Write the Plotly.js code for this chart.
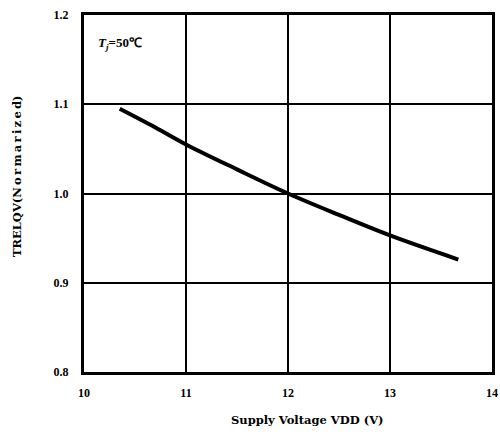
<!DOCTYPE html>
<html><head><meta charset="utf-8">
<script src="https://cdn.plot.ly/plotly-3.0.1.min.js"></script>
<style>body{margin:0;background:#fff}#g{width:500px;height:434px}</style>
</head><body><div id="g"></div>
<script>
const vdd = [10.35, 10.7, 11.0, 11.5, 12.0, 12.5, 13.0, 13.67];
const trelqv = [1.095, 1.074, 1.055, 1.027, 1.0, 0.976, 0.953, 0.926];
const xTicks = [10, 11, 12, 13, 14];
const yTicks = [0.8, 0.9, 1.0, 1.1, 1.2];
const yTickText = ["0.8", "0.9", "1.0", "1.1", "1.2"];
const xTitle = "Supply Voltage VDD (V)";
const yTitle = "TRELQV(N\u2009o\u2009r\u2009m\u2009a\u2009r\u2009i\u2009z\u2009e\u2009d)";
const tickFont = {family: "Liberation Serif, Times New Roman, serif", size: 12, color: "#000", weight: "bold"};
const titleFont = {family: "DejaVu Serif, serif", size: 11.5, color: "#000", weight: "bold"};
Plotly.newPlot("g", [{
  x: vdd, y: trelqv, mode: "lines", type: "scatter",
  line: {color: "#000", width: 4, shape: "spline"}, hoverinfo: "skip"
}], {
  width: 500, height: 434,
  margin: {l: 84, r: 8, t: 15, b: 62},
  paper_bgcolor: "#fff", plot_bgcolor: "#fff",
  showlegend: false,
  xaxis: {range: [10, 14], tickvals: xTicks, showgrid: true, gridcolor: "#000", gridwidth: 2,
    showline: true, linecolor: "#000", linewidth: 3, mirror: true, zeroline: false,
    ticks: "", ticklabelstandoff: 8, tickfont: tickFont},
  yaxis: {range: [0.8, 1.2], tickvals: yTicks, ticktext: yTickText, showgrid: true, gridcolor: "#000", gridwidth: 2,
    showline: true, linecolor: "#000", linewidth: 3, mirror: true, zeroline: false,
    ticks: "", ticklabelstandoff: 10, tickfont: tickFont},
  annotations: [{
    xref: "paper", yref: "paper", x: 0.03, y: 0.92, xanchor: "left", yanchor: "middle", showarrow: false,
    text: "<i>T</i><sub><i>j</i></sub>=50℃", font: {family: "Liberation Serif, serif", size: 13, color: "#000", weight: "bold"}
  }, {
    xref: "paper", yref: "paper", x: 0.547, y: -0.134, xanchor: "center", yanchor: "middle", showarrow: false,
    text: xTitle, font: titleFont
  }, {
    xref: "paper", yref: "paper", x: -0.164, y: 0.549, xanchor: "center", yanchor: "middle", showarrow: false,
    textangle: -90, text: yTitle, font: titleFont
  }]
}, {staticPlot: true});
</script></body></html>
